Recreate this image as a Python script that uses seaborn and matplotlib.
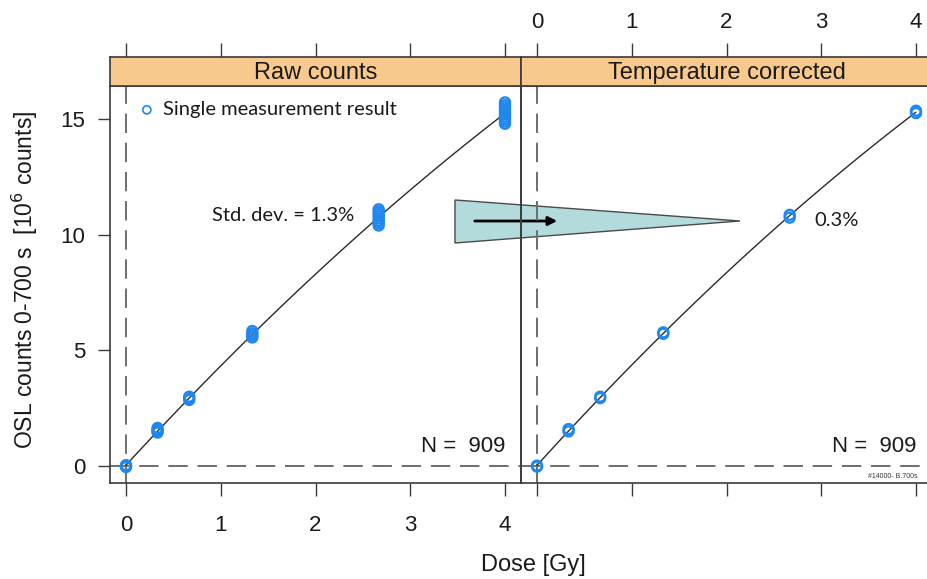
import numpy as np
import pandas as pd
import matplotlib
matplotlib.use("Agg")
import matplotlib.pyplot as plt
import seaborn as sns
from matplotlib.patches import Polygon, FancyArrowPatch

# ---------------- data ----------------
panel_titles = ["Raw counts", "Temperature corrected"]
x_ticks = [0, 1, 2, 3, 4]
y_ticks = [0, 5, 10, 15]

raw_dose = ([0.0] * 3 + [0.333] * 4 + [0.667] * 3 + [1.333] * 4
            + [2.667] * 8 + [4.0] * 10)
raw_counts = ([-0.04, 0.0, 0.04,
               1.45, 1.52, 1.58, 1.65,
               2.86, 2.93, 3.0,
               5.56, 5.65, 5.74, 5.84,
               10.4, 10.5, 10.6, 10.7, 10.8, 10.9, 11.0, 11.1,
               14.8, 14.9, 15.0, 15.1, 15.2, 15.3, 15.4, 15.5, 15.6, 15.72])

corr_dose = [0.0, 0.0, 0.333, 0.333, 0.667, 0.667, 1.333, 1.333,
             2.667, 2.667, 4.0, 4.0]
corr_counts = [-0.02, 0.02, 1.5, 1.6, 2.94, 3.0, 5.72, 5.78,
               10.74, 10.86, 15.26, 15.36]

n_label = "N =  909"
raw_std_label = "Std. dev. = 1.3%"
corr_std_label = "0.3%"
legend_label = "Single measurement result"
run_id = "#14000- B.700s"

raw_df = pd.DataFrame({"dose": raw_dose, "counts": raw_counts})
corr_df = pd.DataFrame({"dose": corr_dose, "counts": corr_counts})

# ---------------- styling ----------------
sns.set_theme(style="white")
plt.rcParams["font.family"] = ["Liberation Sans", "DejaVu Sans"]
ANN_FONT = ["Lato", "DejaVu Sans"]

BLUE = "#1f88ee"
STRIP = "#f8c98d"
EDGE = "#3a3a3a"
DASH = "#6e6e6e"
TXT = "#1a1a1a"

W, H = 927, 579
fig = plt.figure(figsize=(W / 100, H / 100), dpi=100)
fig.patch.set_facecolor("white")


def fr(x0, y0, x1, y1):
    return [x0 / W, 1 - y1 / H, (x1 - x0) / W, (y1 - y0) / H]


ax1 = fig.add_axes(fr(110, 86, 521, 483))
ax2 = fig.add_axes(fr(521, 86, 932, 483))
s1 = fig.add_axes(fr(110, 57, 521, 86))
s2 = fig.add_axes(fr(521, 57, 932, 86))

XLIM = (-0.169, 4.169)
YLIM = (-0.73, 16.43)

for ax, df in [(ax1, raw_df), (ax2, corr_df)]:
    ax.set_facecolor("none")
    ax.axvline(0, color=DASH, lw=1.4, dashes=(10, 5), zorder=1)
    ax.axhline(0, color=DASH, lw=1.4, dashes=(10, 5), zorder=1)
    sns.regplot(data=df, x="dose", y="counts", order=2, ci=None,
                scatter=False, ax=ax,
                line_kws=dict(color="#2a2a2a", lw=1.0, zorder=2))
    sns.scatterplot(data=df, x="dose", y="counts", ax=ax, marker="o",
                    s=52, facecolor="none", edgecolor=BLUE,
                    linewidth=1.7, zorder=3, legend=False)
    ax.set_xlim(XLIM)
    ax.set_ylim(YLIM)
    ax.set_xlabel("")
    ax.set_ylabel("")
    ax.set_xticks(x_ticks)
    ax.set_yticks(y_ticks)
    for sp in ax.spines.values():
        sp.set_color(EDGE)
        sp.set_linewidth(1.2)
    ax.tick_params(axis="both", direction="out", length=9, width=1,
                   color=EDGE, labelsize=16, labelcolor=TXT)
    ax.text(4.0, 0.38, n_label, ha="right", va="bottom", fontsize=16,
            color=TXT)

ax1.tick_params(axis="x", bottom=True, top=False, labelbottom=True, pad=14)
ax1.tick_params(axis="y", left=True, right=False, labelleft=True, pad=9)
ax2.tick_params(axis="x", bottom=True, top=False, labelbottom=False)
ax2.tick_params(axis="y", left=False, right=False, labelleft=False)

for s, title, show in [(s1, panel_titles[0], False), (s2, panel_titles[1], True)]:
    s.set_facecolor(STRIP)
    s.set_xlim(XLIM)
    s.set_ylim(0, 1)
    s.set_xticks(x_ticks)
    s.set_yticks([])
    s.xaxis.tick_top()
    s.tick_params(axis="x", direction="out", length=10, width=1,
                  color=EDGE, labelsize=16, labeltop=show,
                  labelbottom=False, bottom=False, top=True, pad=7,
                  labelcolor=TXT)
    for sp in s.spines.values():
        sp.set_color(EDGE)
        sp.set_linewidth(1.2)
    s.text(0.5, 0.45, title, transform=s.transAxes, ha="center",
           va="center", fontsize=17, color=TXT)

# legend-like annotation
ax1.scatter([0.22], [15.4], s=34, facecolor="none", edgecolor=BLUE,
            linewidth=1.2, zorder=3)
ax1.text(0.39, 15.4, legend_label, ha="left", va="center", fontsize=14.5,
         family=ANN_FONT, color=TXT)
ax1.text(1.66, 10.85, raw_std_label, ha="center", va="center",
         fontsize=14.5, family=ANN_FONT, color=TXT)
ax2.text(3.16, 10.6, corr_std_label, ha="center", va="center",
         fontsize=14.5, family=ANN_FONT, color=TXT)

# arrow / triangle between the panels (figure coordinates)
tri = Polygon([(455 / W, 1 - 200 / H), (455 / W, 1 - 243 / H),
               (740 / W, 1 - 221 / H)], closed=True,
              transform=fig.transFigure, facecolor="#b4dbdc",
              edgecolor="#4a4a4a", lw=1.0, zorder=-1)
fig.patches.append(tri)
arr = FancyArrowPatch((472 / W, 1 - 221 / H), (560 / W, 1 - 221 / H),
                      transform=fig.transFigure, arrowstyle="-|>",
                      mutation_scale=13, color="black", lw=2.0, zorder=-0.5)
fig.patches.append(arr)

fig.text(868 / W, 1 - 476 / H, run_id, fontsize=5, ha="left", va="center",
         color="#333333")

fig.text(533 / W, 1 - 565 / H, "Dose [Gy]", ha="center", va="center",
         fontsize=17, color=TXT)
fig.text(25 / W, 1 - 280 / H, r"OSL counts 0-700 s  [10$^6$ counts]",
         ha="center", va="center", rotation=90, fontsize=16.5,
         color=TXT)

fig.savefig("out.png", dpi=100, facecolor="white")
